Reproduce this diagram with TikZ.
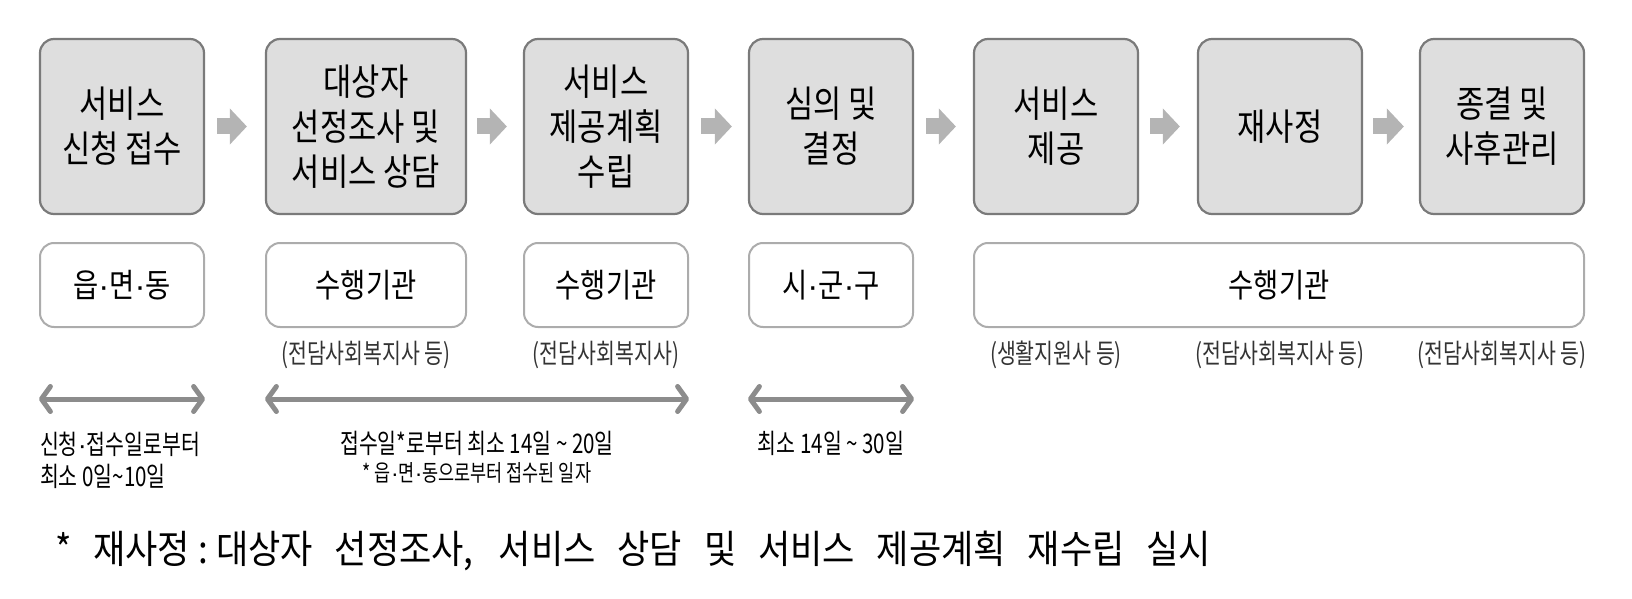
\documentclass[tikz,border=0pt]{standalone}
\usepackage{fontspec}
\newfontfamily\krfont[FakeStretch=0.83]{Noto Sans CJK KR}
\newfontfamily\krnarrow[FakeStretch=0.76]{Noto Sans CJK KR}
\newfontfamily\krwide[FakeStretch=0.9]{Noto Sans CJK KR}
\newfontfamily\latinfont{Liberation Sans}
\newcommand\ptdot{{\latinfont ·}}
\usepackage{tikz}
\usetikzlibrary{
  positioning,
  arrows.meta,
  calc
}

\definecolor{boxfill}{HTML}{DEDEDE}
\definecolor{boxline}{HTML}{7A7A7A}
\definecolor{flowgray}{HTML}{B4B4B4}
\definecolor{spangray}{HTML}{8C8C8C}
\definecolor{orgline}{HTML}{ACACAC}

\begin{document}
\begin{tikzpicture}[
  x=1pt, y=-1pt,
  stage/.style={
    draw=boxline,
    fill=boxfill,
    line width=2.2pt,
    rounded corners=14pt,
    minimum width=164pt,
    minimum height=175pt,
    inner sep=0pt,
    align=center,
    font=\krfont\fontsize{37}{45}\selectfont
  },
  agency/.style={
    draw=orgline,
    fill=white,
    line width=2pt,
    rounded corners=14pt,
    minimum width=164pt,
    minimum height=84pt,
    inner sep=0pt,
    font=\krfont\fontsize{33}{38}\selectfont
  },
  role/.style={
    text=black!80,
    inner sep=0pt,
    font=\krnarrow\fontsize{27}{30}\selectfont
  },
  period/.style={
    inner sep=0pt,
    align=left,
    font=\krnarrow\fontsize{27}{32}\selectfont
  },
  flow/.style={
    flowgray,
    line width=16pt,
    -{Triangle[length=17pt,width=35pt]}
  },
  span/.style={
    spangray,
    line width=5pt,
    {Straight Barb[length=9pt,width=25pt,round]}-{Straight Barb[length=9pt,width=25pt,round]}
  }
]

\useasboundingbox (0,0) rectangle (1632,599);

% Stages
\node[stage] (s1) at (122,126.5) {서비스\\신청 접수};
\node[stage, minimum width=200pt] (s2) at (366,126.5) {대상자\\선정조사 및\\서비스 상담};
\node[stage] (s3) at (606,126.5) {서비스\\제공계획\\수립};
\node[stage] (s4) at (831,126.5) {심의 및\\결정};
\node[stage] (s5) at (1056,126.5) {서비스\\제공};
\node[stage] (s6) at (1280,126.5) {재사정};
\node[stage] (s7) at (1502,126.5) {종결 및\\사후관리};

% Block arrows between stages
\draw[flow] ([xshift=12pt]s1.east) -- ([xshift=-18pt]s2.west);
\draw[flow] ([xshift=10pt]s2.east) -- ([xshift=-16pt]s3.west);
\draw[flow] ([xshift=12pt]s3.east) -- ([xshift=-16pt]s4.west);
\draw[flow] ([xshift=12pt]s4.east) -- ([xshift=-17pt]s5.west);
\draw[flow] ([xshift=11pt]s5.east) -- ([xshift=-17pt]s6.west);
\draw[flow] ([xshift=10pt]s6.east) -- ([xshift=-15pt]s7.west);

% Who does it
\node[agency] (a1) at (s1 |- 0,285) {읍\ptdot 면\ptdot 동};
\node[agency, minimum width=200pt] (a2) at (s2 |- 0,285) {수행기관};
\node[agency] (a3) at (s3 |- 0,285) {수행기관};
\node[agency] (a4) at (s4 |- 0,285) {시\ptdot 군\ptdot 구};
\node[agency, minimum width=610pt] (a5) at (1279,285) {수행기관};

% Staff notes
\node[role] (r2) at ([yshift=-27pt]a2.south) {(전담사회복지사 등)};
\node[role] (r3) at ([yshift=-27pt]a3.south) {(전담사회복지사)};
\node[role] (r5) at ([yshift=-27pt]a5.south -| s5) {(생활지원사 등)};
\node[role] (r6) at ([yshift=-27pt]a5.south -| s6) {(전담사회복지사 등)};
\node[role] (r7) at ([yshift=-27pt]a5.south -| s7) {(전담사회복지사 등)};

% Durations
\coordinate (spany) at (0,399);
\draw[span] (s1.west |- spany) -- (s1.east |- spany);
\draw[span] (s2.west |- spany) -- (s3.east |- spany);
\draw[span] (s4.west |- spany) -- (s4.east |- spany);

\node[period, anchor=north west] (p1) at ([xshift=1pt,yshift=-33pt]s1.west |- spany) {신청\ptdot 접수일로부터\\최소 0일\textasciitilde 10일};
\node[period] (p2) at ($(s2.west |- spany)!0.5!(s3.east |- spany) + (0,44)$) {접수일*로부터 최소 14일 \textasciitilde\ 20일};
\node[period, font=\krnarrow\fontsize{23}{26}\selectfont] (p2n) at ([yshift=-30pt]p2.center) {* 읍\ptdot 면\ptdot 동으로부터 접수된 일자};
\node[period] (p4) at ([yshift=-44pt]s4.center |- spany) {최소 14일 \textasciitilde\ 30일};

% Footnote
\node[anchor=west, inner sep=0pt, font=\krwide\fontsize{39}{44}\selectfont] (foot) at (55,551)
  {\makebox[1156pt][s]{* 재사정\hspace{8pt}:\hspace{8pt}대상자 선정조사, 서비스 상담 및 서비스 제공계획 재수립 실시}};

\end{tikzpicture}
\end{document}
